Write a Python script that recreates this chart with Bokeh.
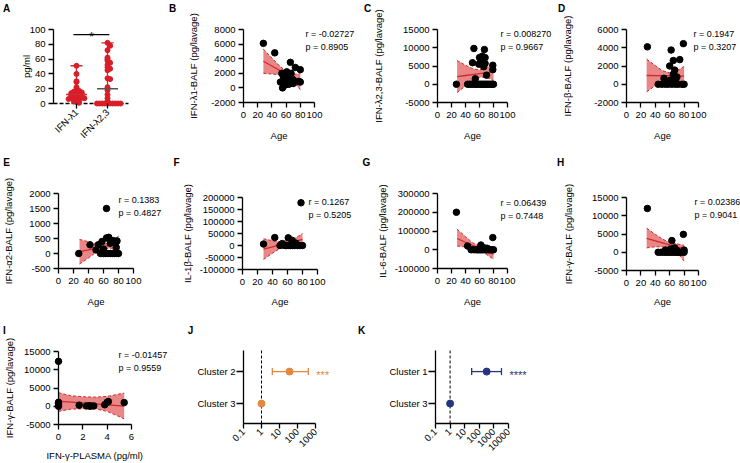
import math
import numpy as np
from bokeh.plotting import figure
from bokeh.models import (Range1d, FixedTicker, CustomJSTickFormatter, Label,
                          LinearAxis, LogAxis, LogScale, Grid)
from bokeh.embed import file_html
from bokeh.resources import INLINE
from bokeh.core.properties import value

# ------------------------------------------------------------------ data
# Panel A
cat_a = ["IFN-λ1", "IFN-λ2,3"]
pgml_l1 = [51, 40, 30, 29, 22, 19, 18, 17, 16, 15, 14, 13, 13, 12, 12, 11, 10, 10,
           9, 8, 8, 7, 6, 5, 4, 3, 2, 1]
pgml_l23 = [82, 78, 72, 62, 60, 58, 55, 52, 49, 47, 45, 34, 33, 22, 18, 12, 7, 3,
            0, 0, 0, 0, 0, 0, 0, 0, 0, 0]
sig_a = "*"

# Panel B  IFN-λ1-BALF vs age
age_b = [28, 44, 66, 73, 80, 54, 52, 55, 59, 61, 67, 63, 70, 58, 78, 80, 66, 62, 68, 56, 70, 59, 64]
ifn_l1_balf = [6100, 4800, 3500, 2800, 2500, 2000, 800, 0, 1400, 2200, 2000, 1100, 600, 800,
               900, 800, 1600, 1600, 1300, 1600, 1100, 400, 500]
fit_x_b = [28, 40, 50, 60, 70, 80]
fit_y_b = [3650, 3000, 2450, 1920, 1380, 850]
lo_b = [2000, 1900, 1800, 1600, 900, -250]
hi_b = [5300, 4100, 3100, 2250, 1850, 1950]
stat_b = ["r = -0.02727", "p  = 0.8905"]

# Panel C  IFN-λ2,3-BALF vs age
age_c = [27, 43, 46, 49, 52, 55, 57, 60, 62, 64, 66, 68, 70, 72, 74, 76, 78, 80,
         52, 67, 50, 60, 64, 68, 62, 68, 59, 79, 79, 70, 54, 66]
ifn_l23_balf = [0, 0, 0, 0, 0, 0, 0, 0, 0, 0, 0, 0, 0, 0, 0, 0, 0, 0,
                9800, 9500, 5900, 7300, 7700, 7300, 6300, 5700, 5500, 5200, 4000, 2500, 1500, 4800]
fit_x_c = [28, 40, 50, 60, 70, 80]
fit_y_c = [2100, 2400, 2650, 2900, 3150, 3400]
lo_c = [-2300, -400, 1000, 1900, 1900, 1000]
hi_c = [6500, 5200, 4300, 3900, 4400, 6000]
stat_c = ["r = 0.008270", "p = 0.9667"]

# Panel D  IFN-β-BALF vs age
age_d = [29, 62, 65, 74, 79, 60, 67, 65, 52, 61, 68, 57, 70, 44, 49, 54, 58, 63, 68, 72, 77, 80]
ifn_b_balf = [4100, 3750, 2600, 2700, 4450, 2000, 1550, 1100, 650, 450, 450, 300, 800,
              0, 0, 0, 0, 0, 0, 0, 0, 0]
fit_x_d = [28, 40, 50, 60, 70, 80]
fit_y_d = [960, 950, 940, 930, 915, 900]
lo_d = [-830, -150, 400, 600, 350, 50]
hi_d = [2750, 2050, 1480, 1260, 1480, 1950]
stat_d = ["r = 0.1947", "p = 0.3207"]

# Panel E  IFN-α2-BALF vs age
age_e = [27, 64, 42, 50, 53, 58, 64, 67, 69, 76, 77, 73, 60, 78, 56, 60, 63, 66, 69, 72, 75, 78, 80]
ifn_a2_balf = [0, 1500, 290, 120, 290, 400, 520, 540, 340, 340, 200, 430, 150, 420,
               0, 0, 0, 0, 0, 0, 0, 0, 0]
fit_x_e = [28, 40, 50, 60, 70, 80]
fit_y_e = [60, 120, 175, 225, 280, 330]
lo_e = [-350, -150, 40, 150, 180, 80]
hi_e = [470, 390, 310, 300, 380, 580]
stat_e = ["r = 0.1383", "p = 0.4827"]

# Panel F  IL-1β-BALF vs age
age_f = [28, 43, 78, 61, 66, 53, 55, 71, 50, 57, 59, 62, 64, 67, 69, 73, 76, 80]
il1b_balf = [6000, 33000, 178000, 32000, 22000, 8000, 1000, 10000, 0, 0, 0, 0, 0, 0, 0, 0, 0, 0]
fit_x_f = [28, 40, 50, 60, 70, 80]
fit_y_f = [-15000, -6000, 2000, 10000, 17000, 25000]
lo_f = [-58000, -32000, -12000, 0, 6000, 2000]
hi_f = [28000, 20000, 16000, 20000, 30000, 50000]
stat_f = ["r = 0.1267", "p = 0.5205"]

# Panel G  IL-6-BALF vs age
age_g = [27, 43, 79, 62, 67, 71, 48, 52, 55, 57, 59, 61, 63, 65, 68, 70, 73, 75, 78, 80]
il6_balf = [200000, 20000, 65000, 25000, 10000, 8000, 0, 0, 0, 0, 0, 0, 0, 0, 0, 0, 0, 0, 0, 0]
fit_x_g = [28, 40, 50, 60, 70, 80]
fit_y_g = [60000, 40000, 24000, 8000, -8000, -25000]
lo_g = [20000, 15000, 10000, -2000, -25000, -50000]
hi_g = [110000, 70000, 38000, 18000, 8000, 0]
stat_g = ["r = 0.06439", "p = 0.7448"]

# Panel H  IFN-γ-BALF vs age
age_h = [29, 63, 79, 54, 61, 65, 70, 80, 58, 67, 44, 48, 52, 55, 58, 61, 64, 67, 70, 73, 76, 80]
ifn_g_balf = [12000, 3200, 4900, 600, 900, 900, 450, 600, 300, 1200, 0, 0, 0, 0, 0, 0, 0, 0, 0, 0, 0, 0]
fit_x_h = [28, 40, 50, 60, 70, 80]
fit_y_h = [3800, 3130, 2570, 2010, 1460, 900]
lo_h = [1200, 1500, 1500, 1200, 0, -2400]
hi_h = [6600, 4900, 3600, 2700, 2300, 1900]
stat_h = ["r = 0.02386", "p = 0.9041"]

# Panel I  IFN-γ-BALF vs IFN-γ-PLASMA
ifn_g_plasma = [0, 0, 0, 0, 0, 1.7, 2.3, 2.5, 2.6, 2.7, 2.9, 3.8, 4.0, 4.1, 5.4]
ifn_g_balf_i = [12300, 1100, 800, 300, 0, 300, 100, 100, 100, 50, 100, 400, 1100, 1300, 1000]
fit_x_i = [0, 1, 2, 3, 4, 5.4]
fit_y_i = [1400, 1150, 900, 650, 400, 50]
lo_i = [-1400, -800, -700, -700, -1400, -3450]
hi_i = [3700, 2900, 2600, 2500, 2700, 3600]
stat_i = ["r = -0.01457", "p = 0.9559"]

# Panels J, K  odds ratios (log scale)
cluster_j = ["Cluster 2", "Cluster 3"]
or_j = [36, 1]
lo_j = [4, None]
hi_j = [400, None]
stars_j = ["***", ""]
ticks_j = [0.1, 1, 10, 100, 1000]

cluster_k = ["Cluster 1", "Cluster 3"]
or_k = [320, 1]
lo_k = [30, None]
hi_k = [3300, None]
stars_k = ["****", ""]
ticks_k = [0.1, 1, 10, 100, 1000, 10000]

# ------------------------------------------------------------------ style
FONT = "Liberation Sans"
FS = "9.5px"
STAT_FS = "9px"
RED = "#cf2a30"
PT_RED = "#d81e28"
BAND = "#dc3c3c"
ORANGE = "#e3883f"
NAVY = "#27347e"
W, H = 740, 463

NUMFMT = CustomJSTickFormatter(code="return String(Math.round(tick));")
LOGFMT = CustomJSTickFormatter(code="return String(tick);")

# one canvas; every panel gets its own x/y ranges mapped onto its box
p = figure(width=W, height=H, x_range=Range1d(0, W), y_range=Range1d(H, 0),
           x_axis_location=None, y_axis_location=None, output_backend="svg",
           toolbar_location=None, min_border_left=0, min_border_right=0,
           min_border_top=0, min_border_bottom=0)
p.outline_line_color = None
p.background_fill_color = "white"
p.border_fill_color = "white"
p.xgrid.visible = False
p.ygrid.visible = False
for r in list(p.center):
    if isinstance(r, Grid):
        r.visible = False
        r.grid_line_color = None

xr_map, yr_map, xs_map = {}, {}, {}
PANELS = {}


def setup(key, box, xr, yr, xlog=False):
    left, top, w, h = box
    x0, x1 = xr
    y0, y1 = yr
    if xlog:
        l0, l1 = math.log10(x0), math.log10(x1)
        s = (l1 - l0) / w
        xr_map[key] = Range1d(10 ** (l0 - left * s), 10 ** (l0 + (W - left) * s))
        xs_map[key] = LogScale()
    else:
        s = (x1 - x0) / w
        xr_map[key] = Range1d(x0 - left * s, x0 + (W - left) * s)
    sy = (y1 - y0) / h
    yr_map[key] = Range1d(y0 - (H - (top + h)) * sy, y1 + top * sy)
    PANELS[key] = dict(box=box, xr=xr, yr=yr, xlog=xlog)


def style_axis(ax):
    ax.axis_line_width = 1.3
    ax.axis_line_color = "black"
    ax.major_tick_line_width = 1.3
    ax.major_tick_line_color = "black"
    ax.major_tick_out = 5
    ax.major_tick_in = 0
    ax.minor_tick_line_color = None
    ax.major_label_text_font = FONT
    ax.major_label_text_font_size = FS
    ax.major_label_text_color = "black"
    ax.major_label_standoff = 3


def axes(key, xticks, yticks, xfmt=None, yfmt=None):
    d = PANELS[key]
    left, top, w, h = d["box"]
    AX = LogAxis if d["xlog"] else LinearAxis
    xa = AX(x_range_name=key, fixed_location=top + h, bounds=d["xr"],
            ticker=FixedTicker(ticks=list(xticks)), formatter=xfmt or NUMFMT)
    ya = LinearAxis(y_range_name=key, fixed_location=left, bounds=d["yr"],
                    ticker=FixedTicker(ticks=list(yticks)), formatter=yfmt or NUMFMT)
    style_axis(xa)
    style_axis(ya)
    p.add_layout(xa, "below")
    p.add_layout(ya, "left")
    return xa, ya


def text(px, py, t, size=FS, align="left", baseline="top", bold=False, angle=0.0,
         color="black"):
    p.add_layout(Label(x=px, y=py, text=t, text_font=FONT, text_font_size=size,
                       text_font_style="bold" if bold else "normal", angle=angle,
                       text_align=align, text_baseline=baseline, text_color=color))


def scatter_panel(key, box, yr, yticks, ylabel, ylab_x, xs, ys, fx, fy, lo, hi, stat,
                  stat_pos, xr=(0, 100), xticks=(0, 20, 40, 60, 80, 100),
                  xlabel="Age", xlab_y=135):
    setup(key, box, xr, yr)
    xa, ya = axes(key, xticks, yticks)
    xa.major_label_standoff = 4
    kw = dict(x_range_name=key, y_range_name=key)
    p.varea(x=fx, y1=lo, y2=hi, fill_color=BAND, fill_alpha=0.62, **kw)
    p.line(fx, lo, line_color=RED, line_width=1, line_dash="3 2", **kw)
    p.line(fx, hi, line_color=RED, line_width=1, line_dash="3 2", **kw)
    p.line(fx, fy, line_color=RED, line_width=1.3, **kw)
    p.scatter(xs, ys, size=6.5, fill_color="black", line_color="black", **kw)
    left, top, w, h = box
    text(ylab_x, top + h / 2, ylabel, align="center", baseline="middle", angle=math.pi / 2)
    text(left + w / 2, xlab_y, xlabel, align="center", baseline="middle")
    sx, sy = stat_pos
    text(sx, sy - 2, stat[0], STAT_FS)
    text(sx, sy + 11, stat[1], STAT_FS)


def forest_panel(key, box, xr, xticks, cats, ors, los, his, stars, color):
    setup(key, box, xr, (0.375, 2.66), xlog=True)
    n = len(cats)
    ys = [n - i for i in range(n)]
    xa, ya = axes(key, xticks, ys, xfmt=LOGFMT)
    ya.major_label_overrides = {y: c for y, c in zip(ys, cats)}
    ya.major_tick_out = 7
    ya.major_label_standoff = 1
    xa.major_label_orientation = math.pi / 4
    xa.major_label_standoff = 2
    kw = dict(x_range_name=key, y_range_name=key)
    p.segment(x0=[1], y0=[0.375], x1=[1], y1=[2.66], line_color="black", line_width=1,
              line_dash="3 2", **kw)
    for y, lo, hi, st in zip(ys, los, his, stars):
        if lo is None:
            continue
        p.segment(x0=[lo], y0=[y], x1=[hi], y1=[y], line_color=color, line_width=1.3, **kw)
        p.scatter(x=[lo, hi], y=[y, y], marker="dash", angle=math.pi / 2, size=7,
                  line_color=color, line_width=1.3, **kw)
        p.text(x=[hi], y=[y], text=[st], x_offset=8, y_offset=3,
               text_font=value(FONT), text_font_size=value("11px"),
               text_color=color, text_baseline="middle", text_align="left", **kw)
    p.scatter(x=ors, y=ys, size=7, fill_color=color, line_color=color, **kw)


# ------------------------------------------------------------------ panel A
setup("A", (53, 29, 75, 74), (0.258, 2.677), (0, 100))
xaA, yaA = axes("A", [1, 2], [0, 20, 40, 60, 80, 100])
xaA.major_label_overrides = {i + 1: c for i, c in enumerate(cat_a)}
xaA.major_label_orientation = math.pi / 4
xaA.major_label_standoff = 2
xaA.axis_line_color = None
kwA = dict(x_range_name="A", y_range_name="A")
p.segment(x0=[0.258], y0=[0], x1=[2.677], y1=[0], line_color="black", line_width=1.3,
          line_dash="4 2", **kwA)


def swarm(vals, step, binw):
    offs = [0.0] * len(vals)
    groups = {}
    for i, v in enumerate(vals):
        groups.setdefault(round(v / binw), []).append(i)
    for idxs in groups.values():
        for k, i in enumerate(idxs):
            m = (k + 1) // 2
            offs[i] = m * step * (1 if k % 2 else -1)
    return offs


for i, vals in enumerate([pgml_l1, pgml_l23]):
    xc = i + 1
    offs = swarm(vals, 0.085, 4)
    vmax, vmin, vmed = max(vals), min(vals), float(np.median(vals))
    p.segment(x0=[xc], y0=[vmin], x1=[xc], y1=[vmax], line_color=RED, line_width=1.3, **kwA)
    p.scatter(x=[xc], y=[vmax], marker="dash", size=12, line_color=RED, line_width=1.3, **kwA)
    p.scatter(x=[xc + o for o in offs], y=vals, size=5, fill_color=PT_RED,
              line_color=PT_RED, **kwA)
    p.scatter(x=[xc], y=[vmed], marker="dash", size=21,
              line_color=RED if i == 0 else "#555555", line_width=1.5, **kwA)
p.segment(x0=[0.9], y0=[93], x1=[2.06], y1=[93], line_color="black", line_width=1.3, **kwA)
text(91, 36, sig_a, size="12px", align="center", baseline="alphabetic")
text(26, 66, "pg/ml", align="center", baseline="middle", angle=math.pi / 2)

# ------------------------------------------------------------------ scatter panels
scatter_panel("B", (243, 29, 71, 73), (-2000, 8000), [-2000, 0, 2000, 4000, 6000, 8000],
              "IFN-λ1-BALF (pg/lavage)", 193,
              age_b, ifn_l1_balf, fit_x_b, fit_y_b, lo_b, hi_b, stat_b, (305, 30))
scatter_panel("C", (437, 29, 70, 73), (-5000, 15000), [-5000, 0, 5000, 10000, 15000],
              "IFN-λ2,3-BALF (pg/lavage)", 378,
              age_c, ifn_l23_balf, fit_x_c, fit_y_c, lo_c, hi_c, stat_c, (500, 30))
scatter_panel("D", (626, 29, 72, 73), (-2000, 6000), [-2000, 0, 2000, 4000, 6000],
              "IFN-β-BALF (pg/lavage)", 567,
              age_d, ifn_b_balf, fit_x_d, fit_y_d, lo_d, hi_d, stat_d, (693, 30))
scatter_panel("E", (58, 193, 75, 75), (-500, 2000), [-500, 0, 500, 1000, 1500, 2000],
              "IFN-α2-BALF (pg/lavage)", 8,
              age_e, ifn_a2_balf, fit_x_e, fit_y_e, lo_e, hi_e, stat_e, (118, 196), xlab_y=301)
scatter_panel("F", (242, 197, 75, 72), (-100000, 200000),
              [-100000, -50000, 0, 50000, 100000, 150000, 200000],
              "IL-1β-BALF (pg/lavage)", 187,
              age_f, il1b_balf, fit_x_f, fit_y_f, lo_f, hi_f, stat_f, (308, 198), xlab_y=301)
scatter_panel("G", (437, 193, 70, 75), (-100000, 300000), [-100000, 0, 100000, 200000, 300000],
              "IL-6-BALF (pg/lavage)", 382,
              age_g, il6_balf, fit_x_g, fit_y_g, lo_g, hi_g, stat_g, (500, 199), xlab_y=301)
scatter_panel("H", (626, 197, 72, 73), (-5000, 15000), [-5000, 0, 5000, 10000, 15000],
              "IFN-γ-BALF (pg/lavage)", 568,
              age_h, ifn_g_balf, fit_x_h, fit_y_h, lo_h, hi_h, stat_h, (694, 198), xlab_y=301)
scatter_panel("I", (58, 351, 73, 73), (-5000, 15000), [-5000, 0, 5000, 10000, 15000],
              "IFN-γ-BALF (pg/lavage)", 9,
              ifn_g_plasma, ifn_g_balf_i, fit_x_i, fit_y_i, lo_i, hi_i, stat_i, (118, 351),
              xr=(0, 6), xticks=(0, 2, 4, 6), xlabel="IFN-γ-PLASMA (pg/ml)", xlab_y=455)

forest_panel("J", (243, 350, 72, 73), (0.1, 1000), ticks_j, cluster_j,
             or_j, lo_j, hi_j, stars_j, ORANGE)
forest_panel("K", (435, 350, 73, 73), (0.1, 10000), ticks_k, cluster_k,
             or_k, lo_k, hi_k, stars_k, NAVY)

# ------------------------------------------------------------------ panel letters
for t, cx, cy in [("A", 6, 8), ("B", 172, 8), ("C", 367, 8), ("D", 561, 8),
                  ("E", 6, 162), ("F", 176, 162), ("G", 366, 162), ("H", 560, 162),
                  ("I", 4, 330), ("J", 190, 330), ("K", 361, 330)]:
    text(cx, cy, t, size="10px", align="center", baseline="middle", bold=True)

p.extra_x_ranges = xr_map
p.extra_y_ranges = yr_map
p.extra_x_scales = xs_map

open("out.html", "w").write(file_html(p, INLINE))
